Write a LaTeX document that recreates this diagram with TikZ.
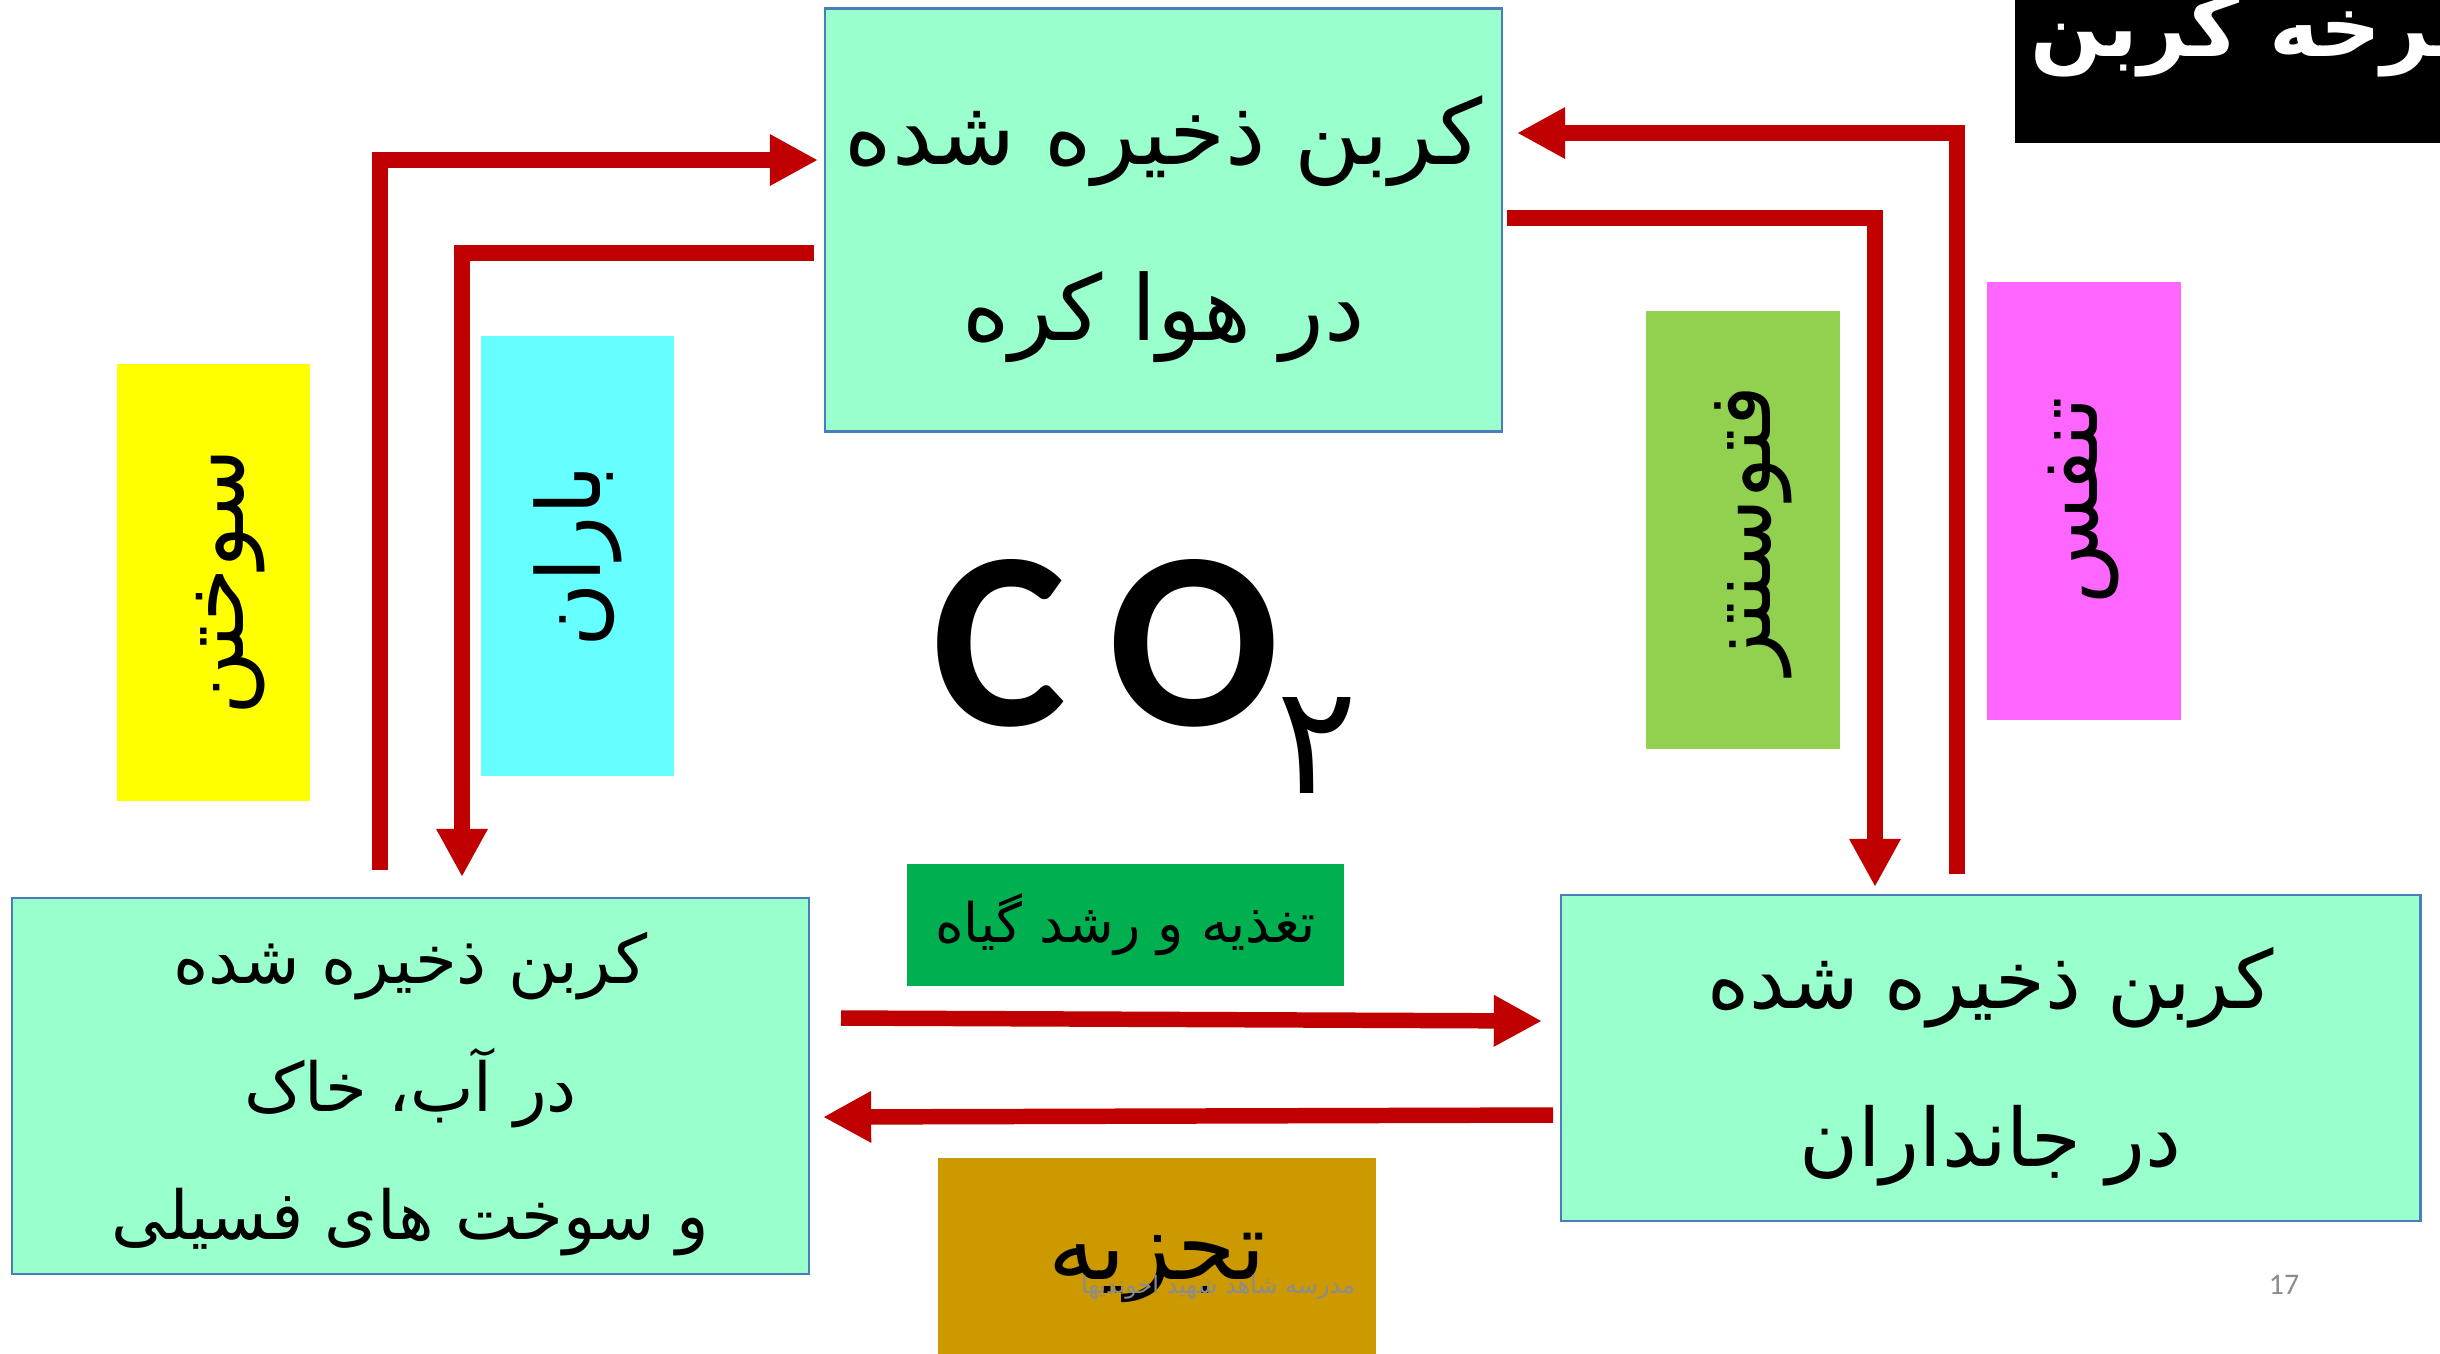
\documentclass[tikz,border=0pt]{standalone}
\usepackage{fontspec}
\usetikzlibrary{arrows.meta}
\TeXXeTstate=1
\newfontfamily\fa[Script=Arabic]{DejaVu Sans}
\newfontfamily\calfont{Carlito}
\definecolor{mint}{HTML}{99FFCC}
\definecolor{boxblue}{HTML}{4A7EBB}
\definecolor{arrowred}{HTML}{C00000}
\definecolor{lyellow}{HTML}{FFFF00}
\definecolor{lcyan}{HTML}{66FFFF}
\definecolor{lgreen}{HTML}{92D050}
\definecolor{lmagenta}{HTML}{FF66FF}
\definecolor{dgreen}{HTML}{00B050}
\definecolor{gold}{HTML}{CC9900}
\definecolor{wmgray}{HTML}{8C8C8C}
\begin{document}
\begin{tikzpicture}[x=0.01cm,y=-0.01cm,
  store/.style={draw=boxblue, line width=0.7pt, fill=mint, inner sep=0pt},
  storetext/.style={inner sep=0pt, align=center},
  tag/.style={inner sep=0pt},
  vlabel/.style={rotate=90, font=\fa\fontsize{25}{29}\selectfont},
  flow/.style={draw=arrowred, line width=4.4pt, line join=miter, -{Triangle[length=13.7pt,width=13.7pt]}}]
\useasboundingbox (0,0) rectangle (2440,1353);
\fill[white] (0,0) rectangle (2440,1353);

% storage boxes
\node[store, minimum width=6.77cm, minimum height=4.23cm] (air) at (1163.5,220) {};
\node[storetext, font=\fa\fontsize{25.8}{50}\selectfont] (airtext) at (1163.5,229)
  {\beginR کربن ذخیره شده\endR\\\beginR در هوا کره\endR};
\node[store, minimum width=7.97cm, minimum height=3.76cm] (soil) at (410.5,1086) {};
\node[storetext, font=\fa\fontsize{19.2}{36.4}\selectfont] (soiltext) at (410.5,1094)
  {\beginR کربن ذخیره شده\endR\\\beginR در آب، خاک\endR\\\beginR و سوخت های فسیلی\endR};
\node[store, minimum width=8.59cm, minimum height=3.26cm] (life) at (1990.5,1058) {};
\node[storetext, font=\fa\fontsize{22.9}{45}\selectfont] (lifetext) at (1990.5,1067)
  {\beginR کربن ذخیره شده\endR\\\beginR در جانداران\endR};

% coloured label boxes
\node[tag, fill=lyellow, minimum width=1.93cm, minimum height=4.37cm] (burnbox) at (213.5,582.5) {};
\node[vlabel] (burn) at ([xshift=5pt]burnbox.center) {\beginR سوختن\endR};
\node[tag, fill=lcyan, minimum width=1.93cm, minimum height=4.40cm] (rainbox) at (577.5,556) {};
\node[vlabel] (rain) at (rainbox.center) {\beginR باران\endR};
\node[tag, fill=lgreen, minimum width=1.94cm, minimum height=4.38cm] (photobox) at (1743,530) {};
\node[vlabel] (photo) at ([xshift=3pt]photobox.center) {\beginR فتوسنتز\endR};
\node[tag, fill=lmagenta, minimum width=1.94cm, minimum height=4.38cm] (respbox) at (2084,501) {};
\node[vlabel] (resp) at (respbox.center) {\beginR تنفس\endR};
\node[tag, fill=dgreen, minimum width=4.37cm, minimum height=1.22cm,
  font=\fa\fontsize{15.5}{18}\selectfont] (feed) at (1125.5,925) {\beginR تغذیه و رشد گیاه\endR};
\node[tag, fill=gold, minimum width=4.38cm, minimum height=1.95cm] (decompbox) at (1157,1256) {};
\node[font=\fa\fontsize{27}{31}\selectfont, inner sep=0pt] (decomp) at (1157,1268) {\beginR تجزیه\endR};

% arrows
\coordinate (b0) at (380,870);  \coordinate (b1) at (380,160);  \coordinate (b2) at (818,160);
\coordinate (r0) at (814,253);  \coordinate (r1) at (462,253);  \coordinate (r2) at (462,877);
\coordinate (s0) at (1957,874); \coordinate (s1) at (1957,133); \coordinate (s2) at (1517,133);
\coordinate (p0) at (1507,218); \coordinate (p1) at (1875,218); \coordinate (p2) at (1875,887);
\coordinate (f0) at (841,1018); \coordinate (f1) at (1542,1021);
\coordinate (d0) at (1553,1115); \coordinate (d1) at (823,1117);
\draw[flow] (b0) -- (b1) -- (b2);
\draw[flow] (r0) -- (r1) -- (r2);
\draw[flow] (s0) -- (s1) -- (s2);
\draw[flow] (p0) -- (p1) -- (p2);
\draw[flow] (f0) -- (f1);
\draw[flow] (d0) -- (d1);

% CO2
\node[font=\calfont\bfseries\fontsize{72}{80}\selectfont, inner sep=0pt] (co) at (1106,643) {C\hspace{12pt}O};
\node[font=\fa\fontsize{43}{48}\selectfont, inner sep=0pt] (two) at (1317,745) {۲};

% title
\fill[black] (2015,0) rectangle (2440,143);
\node[font=\fa\bfseries\fontsize{24}{28}\selectfont, text=white, inner sep=0pt, anchor=base west] (title) at (2030,56) {\beginR چرخه کربن\endR};

% footer
\node[font=\fa\fontsize{6.8}{8}\selectfont, text=wmgray, inner sep=0pt] (wm) at (1218,1287) {\beginR مدرسه شاهد شهید اخوندیها\endR};
\node[font=\calfont\fontsize{8.5}{10}\selectfont, text=wmgray, inner sep=0pt] (page) at (2284,1285) {17};
\end{tikzpicture}
\end{document}
